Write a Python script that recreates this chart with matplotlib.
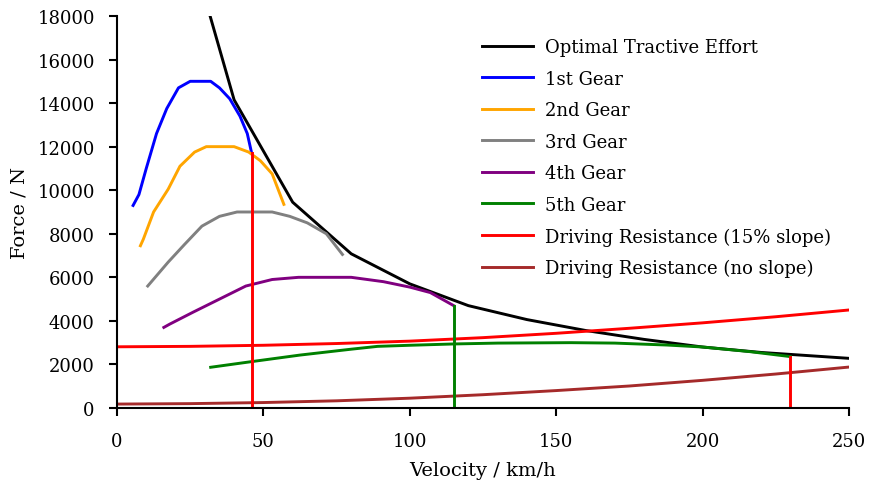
import matplotlib
matplotlib.use("Agg")
from matplotlib import pyplot as plt

# optimal tractive effort (envelope)
v_opt = [31.8, 40, 60, 80, 100, 120, 140, 160, 180, 200, 220, 250]
f_opt = [18000, 14150, 9450, 7080, 5700, 4700, 4060, 3560, 3150, 2800, 2550, 2280]

# gears
v_g1 = [5.5, 7.5, 10, 13.5, 17, 21, 25, 32, 35, 38.5, 42, 44.5, 46]
f_g1 = [9300, 9800, 11000, 12600, 13750, 14700, 15000, 15000, 14700, 14200, 13400, 12600, 11700]

v_g2 = [8, 9, 12.5, 17.5, 21.5, 26.5, 30.5, 40, 45, 49, 53, 57]
f_g2 = [7450, 7750, 9000, 10050, 11100, 11750, 12000, 12000, 11750, 11350, 10750, 9350]

v_g3 = [10.5, 17.5, 23, 29, 35, 41, 53, 59, 65, 71.5, 77]
f_g3 = [5600, 6700, 7500, 8350, 8800, 9000, 9000, 8800, 8500, 8000, 7050]

v_g4 = [16, 18, 26, 35, 44, 53, 62, 80, 91, 100, 107, 115]
f_g4 = [3700, 3850, 4400, 5000, 5600, 5900, 6000, 6000, 5800, 5550, 5300, 4700]

v_g5 = [32, 46, 62.5, 80, 89, 100, 115, 130, 155, 170, 188, 200, 216, 230]
f_g5 = [1870, 2130, 2430, 2700, 2830, 2880, 2940, 2980, 3000, 2980, 2890, 2800, 2590, 2360]

# driving resistance
v_res = [0, 25, 50, 75, 100, 125, 150, 175, 200, 225, 250]
f_res15 = [2810, 2830, 2880, 2960, 3070, 3230, 3430, 3660, 3910, 4190, 4500]
f_res0 = [180, 200, 250, 330, 450, 610, 800, 1010, 1270, 1560, 1880]

# max speed markers (velocity, force at top, colour)
v_max = [46, 115, 230]
f_max = [11700, 4700, 2360]
c_max = ['red', 'green', 'red']

plt.rcParams['font.family'] = ['DejaVu Serif']
plt.rcParams['font.size'] = 13

fig = plt.figure(figsize=(8.73, 4.81), dpi=100)
ax = fig.add_axes([0.134, 0.1497, 0.8385, 0.815])

lw = 2.1
ax.plot(v_opt, f_opt, c='black', lw=lw, label='Optimal Tractive Effort')
ax.plot(v_g1, f_g1, c='blue', lw=lw, label='1st Gear')
ax.plot(v_g2, f_g2, c='orange', lw=lw, label='2nd Gear')
ax.plot(v_g3, f_g3, c='grey', lw=lw, label='3rd Gear')
ax.plot(v_g4, f_g4, c='purple', lw=lw, label='4th Gear')
ax.plot(v_g5, f_g5, c='green', lw=lw, label='5th Gear')
ax.plot(v_res, f_res15, c='red', lw=lw, label='Driving Resistance (15% slope)')
ax.plot(v_res, f_res0, c='brown', lw=lw, label='Driving Resistance (no slope)')

for v, f, c in zip(v_max, f_max, c_max):
    ax.plot([v, v], [0, f], c=c, lw=lw)

ax.set_xlim(0, 250)
ax.set_ylim(0, 18000)
ax.set_xticks([0, 50, 100, 150, 200, 250])
ax.set_yticks(range(0, 18001, 2000))
ax.set_xlabel('Velocity / km/h', fontsize=14, labelpad=8)
ax.set_ylabel('Force / N', fontsize=14, labelpad=6)

for s in ['top', 'right']:
    ax.spines[s].set_visible(False)
for s in ['left', 'bottom']:
    ax.spines[s].set_linewidth(1.5)
ax.tick_params(direction='out', length=6, width=1.5, labelsize=13)
ax.tick_params(axis='x', pad=11)
ax.tick_params(axis='y', pad=10)

ax.legend(loc='upper right', frameon=False, bbox_to_anchor=(0.998, 0.985),
          handlelength=2.8, handletextpad=0.7, labelspacing=0.75, fontsize=13)

fig.savefig('out.png', dpi=100)
